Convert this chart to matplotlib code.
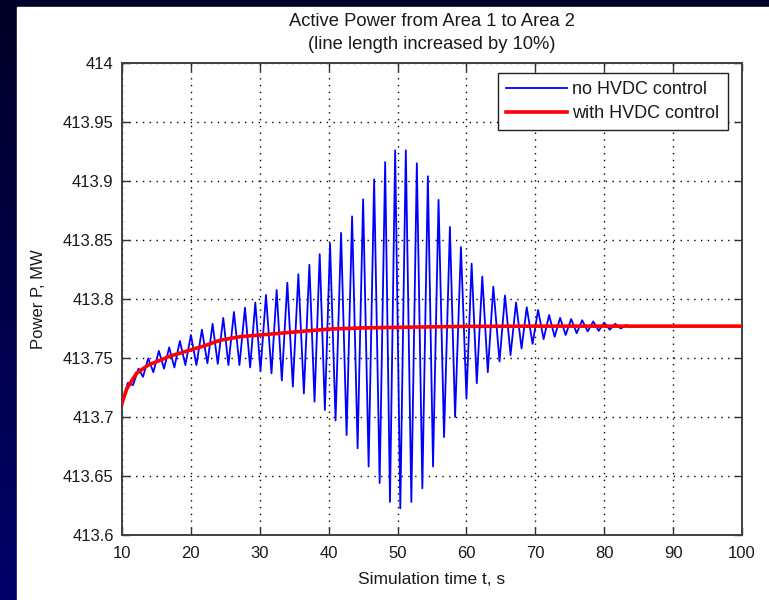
import numpy as np
import matplotlib
matplotlib.use("Agg")
import matplotlib.pyplot as plt
from matplotlib.patches import Rectangle

plt.rcParams['font.family'] = ['Liberation Sans', 'DejaVu Sans']
plt.rcParams['lines.scale_dashes'] = False

# --- no HVDC control: oscillation extremes (time s, power MW) ---
peak_t = [10.85, 12.4, 13.8, 15.35, 16.85, 18.4, 20.0, 21.6, 23.15, 24.7, 26.25,
          27.85, 29.35, 30.9, 32.45, 34.0, 35.6, 37.2, 38.7, 40.2, 41.8, 43.4,
          45.0, 46.6, 48.2, 49.65, 51.2, 52.8, 54.4, 55.95, 57.6, 59.2, 60.75,
          62.3, 63.9, 65.6, 67.2, 68.75, 70.4, 72.0, 73.6, 75.2, 76.8, 78.4,
          80.0, 81.6, 83.2]
peak_p = [413.729, 413.741, 413.7497, 413.756, 413.759, 413.7644, 413.7695, 413.774,
          413.779, 413.784, 413.789, 413.7926, 413.797, 413.8034, 413.8076, 413.8138,
          413.821, 413.829, 413.838, 413.847, 413.856, 413.870, 413.8845, 413.9014,
          413.916, 413.926, 413.926, 413.915, 413.904, 413.884, 413.861, 413.844,
          413.830, 413.819, 413.8104, 413.803, 413.797, 413.793, 413.7907, 413.7864,
          413.784, 413.783, 413.782, 413.781, 413.780, 413.779, 413.778]
trough_t = [11.6, 13.05, 14.55, 16.1, 17.6, 19.2, 20.8, 22.4, 23.9, 25.45, 27.05,
            28.6, 30.1, 31.7, 33.2, 34.8, 36.4, 37.95, 39.45, 41.0, 42.6, 44.2,
            45.8, 47.4, 48.9, 50.4, 52.0, 53.6, 55.15, 56.75, 58.35, 60.0, 61.5,
            63.1, 64.8, 66.4, 68.0, 69.6, 71.2, 72.8, 74.4, 76.0, 77.6, 79.2,
            80.8, 82.4, 84.0]
trough_p = [413.727, 413.734, 413.738, 413.741, 413.742, 413.744, 413.744, 413.7455,
            413.745, 413.744, 413.744, 413.742, 413.739, 413.737, 413.731, 413.7257,
            413.720, 413.713, 413.706, 413.697, 413.6847, 413.6735, 413.658, 413.644,
            413.628, 413.6226, 413.628, 413.6396, 413.658, 413.683, 413.700, 413.716,
            413.7286, 413.738, 413.747, 413.7525, 413.758, 413.762, 413.766, 413.768,
            413.7695, 413.771, 413.7725, 413.773, 413.774, 413.775, 413.776]
start_t, start_p = 10.0, 413.711
end_t, end_p = [85.0, 100.0], [413.777, 413.777]

# --- with HVDC control ---
hvdc_t = [10.0, 10.7, 12.1, 13.8, 15.5, 17.0, 18.4, 19.9, 21.8, 24.2, 27.1, 30.0,
          35.0, 40.0, 45.0, 50.0, 60.0, 70.0, 80.0, 90.0, 100.0]
hvdc_p = [413.7116, 413.724, 413.737, 413.744, 413.748, 413.7517, 413.754, 413.7568,
          413.760, 413.765, 413.768, 413.7695, 413.772, 413.7745, 413.7755, 413.776,
          413.7768, 413.777, 413.777, 413.777, 413.777]

x_ticks = [10, 20, 30, 40, 50, 60, 70, 80, 90, 100]
y_ticks = [413.6, 413.65, 413.7, 413.75, 413.8, 413.85, 413.9, 413.95, 414]
y_tick_labels = ['413.6', '413.65', '413.7', '413.75', '413.8', '413.85', '413.9',
                 '413.95', '414']

# merge extremes into one time-ordered trace
pts = [(start_t, start_p)] + list(zip(peak_t, peak_p)) + list(zip(trough_t, trough_p)) \
      + list(zip(end_t, end_p))
pts.sort()
no_t = [p[0] for p in pts]
no_p = [p[1] for p in pts]

W, H = 769, 600
fig = plt.figure(figsize=(W / 100, H / 100), dpi=100)

# dark navy frame with a vertical gradient
bg = fig.add_axes([0, 0, 1, 1])
grad = np.linspace(0, 1, 256).reshape(-1, 1)
top_c = np.array([0, 0, 40]) / 255
bot_c = np.array([0, 0, 105]) / 255
img = top_c + (bot_c - top_c) * grad[:, :, None]
bg.imshow(img, aspect='auto', extent=[0, 1, 0, 1], origin='upper')
bg.add_patch(Rectangle((17 / W, 0), 1 - 17 / W, (H - 7) / H, color='white',
                       transform=bg.transAxes))
bg.set_xlim(0, 1)
bg.set_ylim(0, 1)
bg.axis('off')

ax = fig.add_axes([122 / W, 65 / H, 620 / W, 472 / H])
ax.plot(no_t, no_p, color='#0000ff', lw=1.3, label='no HVDC control', zorder=3)
ax.plot(hvdc_t, hvdc_p, color='#ff0000', lw=2.6, label='with HVDC control', zorder=4)

ax.set_xlim(10, 100)
ax.set_ylim(413.6, 414)
ax.set_xticks(x_ticks)
ax.set_yticks(y_ticks)
ax.set_yticklabels(y_tick_labels)
ax.tick_params(direction='in', top=True, right=True, length=6, width=1.0,
               color='#303030', labelsize=12, labelcolor='#1a1a1a', pad=6)
ax.tick_params(axis='x', pad=8)
for s in ax.spines.values():
    s.set_color('#404040')
    s.set_linewidth(1.4)
ax.grid(True, color='black', linestyle=(0, (1.0, 3.9)), linewidth=1.0)
ax.set_axisbelow(True)

ax.set_title('Active Power from Area 1 to Area 2\n(line length increased by 10%)',
             fontsize=13.2, color='#1a1a1a', pad=10, linespacing=1.5)
ax.set_xlabel('Simulation time t, s', fontsize=12.5, color='#1a1a1a', labelpad=8)
ax.set_ylabel('Power P, MW', fontsize=12, color='#1a1a1a', labelpad=12)

leg = ax.legend(loc='upper right', fontsize=13, frameon=True, fancybox=False,
                edgecolor='#202020', framealpha=1, borderpad=0.45,
                handlelength=3.4, handletextpad=0.3, labelspacing=0.4,
                borderaxespad=0, bbox_to_anchor=(0.977, 0.979))
leg.get_frame().set_linewidth(1.0)
for t in leg.get_texts():
    t.set_color('#1a1a1a')

fig.savefig('out.png', dpi=100)
